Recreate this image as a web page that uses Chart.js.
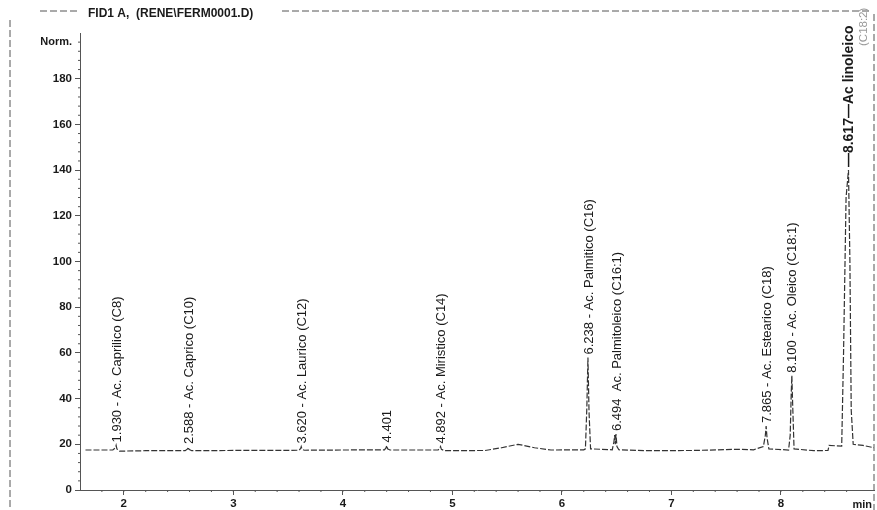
<!DOCTYPE html>
<html>
<head>
<meta charset="utf-8">
<script src="https://cdn.jsdelivr.net/npm/chart.js@4/dist/chart.umd.min.js"></script>
<style>
  html, body { margin: 0; padding: 0; background: #fff; }
  #wrap { width: 877px; height: 510px; position: relative; }
</style>
</head>
<body>
<div id="wrap"><canvas id="chrom"></canvas></div>
<script>
// chromatogram trace (retention time in min, signal in Norm.)
const traceTimes = [
  1.65, 1.90, 1.925, 1.930, 1.937, 1.96, 2.2, 2.56, 2.582, 2.588, 2.595, 2.62,
  3.0, 3.4, 3.60, 3.615, 3.620, 3.627, 3.65, 4.0, 4.38, 4.395, 4.401, 4.408, 4.43,
  4.87, 4.886, 4.892, 4.90, 4.93, 5.3, 5.45, 5.6, 5.75, 5.9, 6.2,
  6.215, 6.228, 6.238, 6.248, 6.262, 6.46, 6.475, 6.482, 6.488, 6.494, 6.503, 6.52,
  6.8, 7.2, 7.6, 7.75, 7.84, 7.858, 7.865, 7.873, 7.89,
  8.07, 8.085, 8.094, 8.100, 8.107, 8.12, 8.3, 8.43, 8.44, 8.555,
  8.572, 8.595, 8.617, 8.63, 8.642, 8.66, 8.75, 8.85
];
const traceValues = [
  17.5, 17.5, 18.5, 19.5, 18, 17, 17.2, 17.2, 18, 18.8, 17.8, 17.2,
  17.3, 17.3, 17.4, 18.2, 19, 17.8, 17.4, 17.5, 17.6, 18.5, 19.5, 18, 17.5,
  17.5, 18.3, 19, 17.8, 17.2, 17.3, 18.5, 20, 18.5, 17.5, 17.6,
  18, 36, 58, 34, 18, 17.6, 21, 24, 20, 24.5, 19, 17.6,
  17.2, 17.3, 17.8, 17.6, 19, 24, 28, 23, 18,
  17.5, 24, 42, 50, 38, 18, 17.2, 17.3, 19.5, 19.2,
  60, 128, 140, 100, 35, 20, 19.5, 18.5
];

// labelled peaks
const peakTimes = [1.930, 2.588, 3.620, 4.401, 4.892, 6.238, 6.494, 7.865, 8.100, 8.617];
const peakTops = [19.5, 18.8, 19, 19.5, 19, 58, 24.5, 28, 50, 140];
const peakNames = [
  '1.930 - Ac. Caprilico (C8)',
  '2.588 - Ac. Caprico (C10)',
  '3.620 - Ac. Laurico (C12)',
  '4.401',
  '4.892 - Ac. Miristico (C14)',
  '6.238 - Ac. Palmitico (C16)',
  '6.494  Ac. Palmitoleico (C16:1)',
  '7.865 - Ac. Estearico (C18)',
  '8.100 - Ac. Oleico (C18:1)',
  '\u20148.617\u2014Ac linoleico'
];

const xTicks = [2, 3, 4, 5, 6, 7, 8];
const yTicks = [0, 20, 40, 60, 80, 100, 120, 140, 160, 180];

const FONT = '"Liberation Sans", Arial, sans-serif';
const INK = '#1a1a1a';

const points = traceTimes.map((t, i) => ({ x: t, y: traceValues[i] }));

// frame, title, minor ticks and peak labels
const decorPlugin = {
  id: 'decor',
  afterDraw(chart) {
    const ctx = chart.ctx;
    const xs = chart.scales.x;
    const ys = chart.scales.y;
    const area = chart.chartArea;
    ctx.save();

    // outer frame (dashed, like the scanned print)
    ctx.strokeStyle = '#555';
    ctx.lineWidth = 1;
    ctx.setLineDash([7, 3]);
    ctx.beginPath();
    ctx.moveTo(10, 20); ctx.lineTo(10, 510);
    ctx.moveTo(874, 14); ctx.lineTo(874, 510);
    ctx.moveTo(40, 11); ctx.lineTo(80, 11);
    ctx.moveTo(282, 11); ctx.lineTo(870, 11);
    ctx.stroke();
    ctx.setLineDash([]);

    // title
    ctx.fillStyle = INK;
    ctx.font = 'bold 12px ' + FONT;
    ctx.textAlign = 'left';
    ctx.textBaseline = 'middle';
    ctx.fillText('FID1 A,  (RENE\\FERM0001.D)', 88, 14);

    // y unit
    ctx.font = 'bold 11px ' + FONT;
    ctx.textAlign = 'right';
    ctx.fillText('Norm.', 72, 42);

    // x unit
    ctx.fillText('min', 872, 505);

    // minor ticks
    ctx.strokeStyle = '#555';
    ctx.beginPath();
    for (let v = 4; v <= 196; v += 4) {
      if (v % 20 === 0) continue;
      const py = ys.getPixelForValue(v);
      ctx.moveTo(area.left - 2, py); ctx.lineTo(area.left, py);
    }
    for (let t = 1.8; t <= 8.8; t += 0.2) {
      const px = xs.getPixelForValue(t);
      ctx.moveTo(px, area.bottom); ctx.lineTo(px, area.bottom + 2);
    }
    ctx.stroke();

    // peak annotations, rotated, starting at the apex
    ctx.fillStyle = INK;
    ctx.textAlign = 'left';
    ctx.textBaseline = 'middle';
    peakTimes.forEach((t, i) => {
      const px = xs.getPixelForValue(t);
      const py = ys.getPixelForValue(peakTops[i]);
      const last = i === peakTimes.length - 1;
      ctx.font = last ? 'bold 14px ' + FONT : '13px ' + FONT;
      ctx.save();
      ctx.translate(px + 1, py - 3);
      ctx.rotate(-Math.PI / 2);
      ctx.fillText(peakNames[i], 0, 0);
      ctx.restore();
    });

    // handwritten note next to the last peak
    const nx = xs.getPixelForValue(8.617) + 15;
    ctx.save();
    ctx.translate(nx, 46);
    ctx.rotate(-Math.PI / 2);
    ctx.fillStyle = '#9a9a9a';
    ctx.font = '11.5px ' + FONT;
    ctx.fillText('(C18:2)', 0, 0);
    ctx.restore();

    ctx.restore();
  }
};

new Chart(document.getElementById('chrom'), {
  type: 'line',
  data: {
    datasets: [{
      data: points,
      borderColor: '#333',
      borderWidth: 1.2,
      borderDash: [6, 2],
      pointRadius: 0,
      tension: 0,
      fill: false
    }]
  },
  options: {
    responsive: true,
    maintainAspectRatio: false,
    animation: false,
    layout: { padding: { top: 33, right: 3, left: 0, bottom: 0 } },
    plugins: {
      legend: { display: false },
      tooltip: { enabled: false }
    },
    scales: {
      x: {
        type: 'linear',
        min: 1.6,
        max: 8.85,
        afterBuildTicks: axis => { axis.ticks = xTicks.map(v => ({ value: v })); },
        afterFit: axis => { axis.height = 20; },
        grid: { drawOnChartArea: false, tickLength: 5, color: '#555' },
        border: { color: '#555', dash: [7, 2] },
        ticks: {
          color: INK,
          padding: 2,
          maxRotation: 0,
          font: { family: FONT, size: 11.5, weight: 'bold' }
        }
      },
      y: {
        min: 0,
        max: 200,
        afterBuildTicks: axis => { axis.ticks = yTicks.map(v => ({ value: v })); },
        afterFit: axis => { axis.width = 80; },
        grid: { drawOnChartArea: false, tickLength: 5, color: '#555' },
        border: { color: '#555', dash: [7, 2] },
        ticks: {
          color: INK,
          padding: 3,
          font: { family: FONT, size: 11.5, weight: 'bold' }
        }
      }
    }
  },
  plugins: [decorPlugin]
});
</script>
</body>
</html>
